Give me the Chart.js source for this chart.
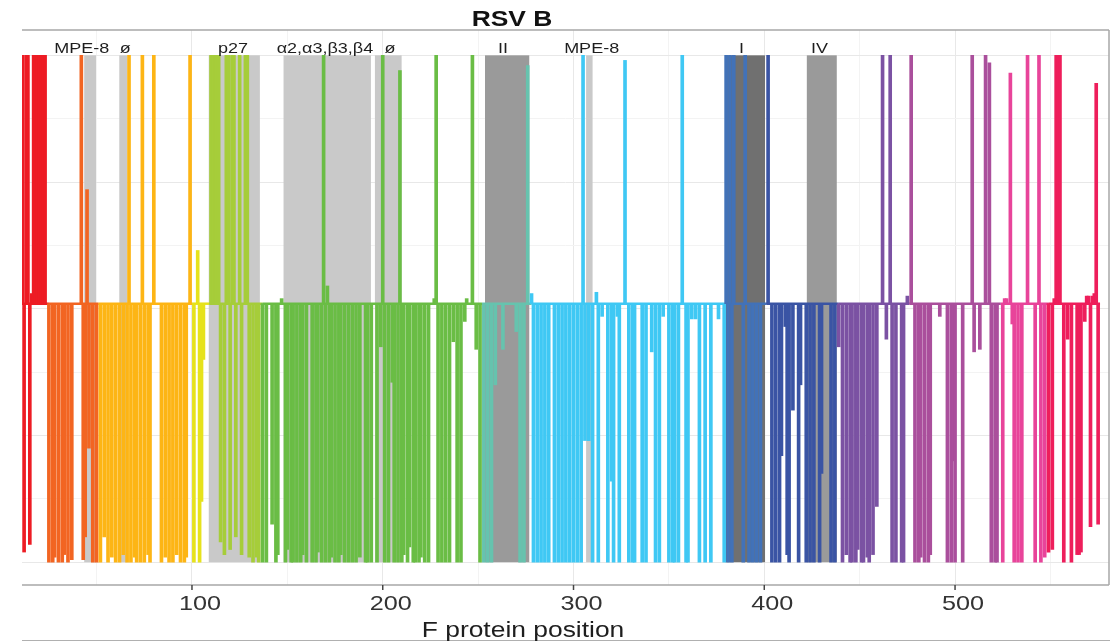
<!DOCTYPE html>
<html>
<head>
<meta charset="utf-8">
<title>RSV B</title>
<script src="https://cdn.jsdelivr.net/npm/chart.js"></script>
<style>
  html, body { margin: 0; padding: 0; background: #fff; }
  #chart { display: block; }
</style>
</head>
<body>
<canvas id="chart" width="1110" height="641"></canvas>
<script>
// last F protein position and the level of the flat baseline
var lastPos = 576
var baseline = 0.02

// domain colours, each one runs from its start position up to the next start
var domainStart = [1, 25, 51, 100, 109, 137, 252, 278, 380, 401, 439, 476, 524, 549]
var domainColor = ['#ed1c24', '#f26522', '#fdb515', '#e6e21c', '#a6cd3a', '#6abd45', '#66c3ae',
                   '#3fc8f4', '#4272b8', '#3a54a4', '#7b52a3', '#aa4f9c', '#e8449a', '#ee1e5b']

// [position, value] for every position that leaves the baseline
var redPts = [[11,1],[12,-0.96],[13,1],[14,1],[15,-0.93],[16,0.06],[17,1],[18,1],[19,1],[20,1],[21,1],[22,1],[23,1]]
var orangeRedPts = [[25,-1],[27,-1],[28,-0.98],[30,-1],[32,-1],[33,-0.97],[35,-1],[37,-0.99],
  [42,1],[43,-0.99],[44,-0.9],[45,0.47],[46,-0.55],[48,-1],[50,-1]]
var orangePts = [[52,-1],[54,-0.9],[56,-1],[58,-0.98],[60,-1],[62,-1],[64,-0.97],[66,-1],[67,1],[68,-1],[70,-0.98],
  [71,-1],[73,-1],[74,1],[75,-1],[77,-0.97],[78,-1],[80,1],[84,-1],[86,-0.98],[88,-1],[90,-1],[92,-0.97],[94,-1],
  [96,-1],[97,-0.98],[99,1]]
var yellowPts = [[101,-1],[103,0.23],[104,-1],[105,-0.76],[106,-0.2]]
var limePts = [[110,1],[111,1],[112,1],[113,1],[114,1],[115,-0.92],[117,-0.97],[118,1],[119,1],[120,-0.95],[121,1],
  [122,1],[123,-0.9],[125,1],[126,-0.97],[128,1],[129,1],[130,-0.98],[132,-1],[134,-0.98],[135,-1]]
var greenPts = [[137,-1],[139,-1],[142,-0.85],[144,-1],[145,-0.97],[147,0.04],[149,-1],[150,-0.95],[152,-1],[153,-1],
  [155,-1],[157,-1],[158,-0.97],[160,-1],[163,-1],[165,-1],[166,-0.96],[168,-1],[169,1],[170,-1],[171,0.09],[172,-1],
  [173,-0.98],[175,-1],[177,-1],[178,-0.97],[180,-1],[182,-1],[184,-1],[186,-1],[188,-0.98],[191,-1],[192,-1],
  [194,-1],[197,-1],[199,-0.15],[200,1],[201,-1],[203,-1],[205,-0.29],[206,-1],[208,-1],[209,0.94],[210,-1],
  [211,-0.97],[213,-1],[214,-0.94],[216,-1],[217,-1],[219,-1],[220,-0.98],[222,-1],[224,-1],[227,0.04],[228,1],
  [229,-1],[231,-1],[233,-1],[235,-1],[237,-0.13],[239,-1],[241,-1],[243,-0.05],[244,0.04],[247,1],[249,-0.16],[251,-1]]
var tealPts = [[253,-1],[255,-1],[257,-1],[259,-0.3],[263,-0.16],[270,-0.09],[272,-1],[274,-1],[276,0.96]]
var skyPts = [[278,0.06],[279,-1],[281,-1],[283,-1],[285,-1],[287,-1],[290,-1],[292,-1],[294,-1],[296,-1],[298,-1],
  [300,-1],[302,-1],[304,-1],[305,1],[306,-0.52],[308,-0.52],[310,-1],[312,0.065],[313,-1],[315,-0.03],[318,-1],
  [320,-0.68],[321,-1],[323,-0.03],[324,-1],[327,0.98],[329,-1],[331,-1],[332,-1],[336,-1],[338,-1],[341,-0.17],
  [343,-1],[345,-1],[347,-0.03],[350,-1],[352,-1],[353,-1],[355,-1],[357,1],[359,-1],[360,-1],[362,-0.04],
  [364,-0.04],[366,-1],[369,-1],[372,-1],[376,-0.04],[379,-1]]
var steelPts = [[380,1],[381,-1],[382,1],[383,-1],[384,1],[389,-1],[390,1],[392,-1],[394,-1],[396,-1],[398,-1]]
var bluePts = [[402,1],[404,-1],[406,-1],[408,-1],[409,-0.58],[411,-0.07],[412,-0.97],[413,-1],[415,-0.4],[418,-1],
  [419,-0.3],[422,-1],[424,-1],[426,-1],[429,-1],[430,-0.65],[435,-1],[437,-1]]
var purplePts = [[439,-0.15],[441,-1],[443,-0.97],[445,-1],[446,-1],[448,-1],[449,-0.95],[451,-1],[452,-1],[454,-0.98],
  [455,-1],[457,-0.97],[459,-0.78],[462,1],[464,-0.12],[466,1],[467,-1],[469,-1],[472,-1],[473,-1],[475,0.05]]
var magentaPts = [[477,1],[479,-1],[481,-1],[482,-0.98],[484,-1],[486,-1],[487,-0.97],[492,-0.03],[496,-1],[498,-1],
  [499,-0.6],[500,-1],[504,-1],[509,1],[510,-0.17],[513,-0.16],[516,1],[518,0.97],[519,-1],[521,-1],[522,-1]]
var pinkPts = [[525,-1],[526,0.04],[527,0.04],[529,0.93],[530,-0.06],[531,-1],[533,-1],[535,-1],[538,1],[542,-1],
  [544,1],[545,-1],[547,-0.98]]
var crimsonPts = [[549,-0.96],[551,-0.95],[552,0.04],[553,1],[554,1],[555,1],[557,-1],[559,-0.12],[561,-1],
  [564,-0.97],[565,-0.97],[566,-0.96],[568,-0.05],[569,0.05],[570,0.05],[571,-0.86],[572,0.05],[573,0.06],
  [574,0.89],[575,-0.85]]

// antigenic sites (shaded bands) and their labels
var siteName = ['MPE-8', 'ø', 'p27', 'α2,α3,β3,β4', 'ø', 'II', 'MPE-8', 'I', 'IV']
var siteFrom = [43.5, 61.9, 108.8, 148, 195.9, 253.6, 306.6, 379.6, 422.3]
var siteTo = [49.7, 66.1, 135.6, 193.8, 209.9, 276.8, 310, 400.4, 438]
var siteShade = ['#c9c9c9', '#c9c9c9', '#c9c9c9', '#c9c9c9', '#c9c9c9', '#9a9a9a', '#c9c9c9', '#707070', '#9a9a9a']
var siteLabelAt = [42.2, 65, 121.5, 169.7, 203.8, 263, 309.5, 388, 429]

var titleText = 'RSV B'
var xTitle = 'F protein position'
var textStretch = 1.2

var spikes = [].concat(redPts, orangeRedPts, orangePts, yellowPts, limePts, greenPts, tealPts, skyPts,
                       steelPts, bluePts, purplePts, magentaPts, pinkPts, crimsonPts)
  .map(function(p) { return {x: p[0], y: [baseline, p[1]]} })
var baseLine = domainStart.concat([lastPos]).map(function(p) { return {x: p, y: baseline} })

function domainColorAt(p) {
  var c = domainColor[0]
  for (var i = 0; i < domainStart.length; i++) {
    if (p >= domainStart[i]) c = domainColor[i]
  }
  return c
}

function wideText(ctx, text, x, y, font, color) {
  ctx.save()
  ctx.font = font
  ctx.fillStyle = color
  ctx.textAlign = 'center'
  ctx.textBaseline = 'alphabetic'
  ctx.translate(x, y)
  ctx.scale(textStretch, 1)
  ctx.fillText(text, 0, 0)
  ctx.restore()
}

function onStep(v, step) {
  return Math.abs(v / step - Math.round(v / step)) < 1e-6
}

var decorations = {
  id: 'decorations',
  beforeDatasetsDraw: function(chart) {
    var ctx = chart.ctx, xs = chart.scales.x, ys = chart.scales.y
    var top = ys.getPixelForValue(1), bottom = ys.getPixelForValue(-1)
    ctx.save()
    for (var i = 0; i < siteName.length; i++) {
      var x0 = xs.getPixelForValue(siteFrom[i]), x1 = xs.getPixelForValue(siteTo[i])
      ctx.fillStyle = siteShade[i]
      ctx.fillRect(x0, top, x1 - x0, bottom - top)
    }
    ctx.restore()
  },
  afterDraw: function(chart) {
    var ctx = chart.ctx, xs = chart.scales.x, ys = chart.scales.y, a = chart.chartArea
    ctx.save()
    ctx.strokeStyle = '#a8a8a8'
    ctx.lineWidth = 1.5
    ctx.beginPath()
    ctx.moveTo(a.left, a.top); ctx.lineTo(a.right, a.top)
    ctx.moveTo(a.right, a.top); ctx.lineTo(a.right, a.bottom)
    ctx.moveTo(a.left, a.bottom); ctx.lineTo(a.right, a.bottom)
    ctx.stroke()
    ctx.strokeStyle = '#b0b0b0'
    ctx.lineWidth = 1
    ctx.beginPath()
    ctx.moveTo(a.left, chart.height - 0.5); ctx.lineTo(chart.width, chart.height - 0.5)
    ctx.stroke()
    // tick marks and labels every 100
    ctx.strokeStyle = '#444'
    ctx.lineWidth = 1.5
    xs.ticks.forEach(function(t) {
      if (!onStep(t.value, 100)) return
      var x = xs.getPixelForValue(t.value)
      ctx.beginPath(); ctx.moveTo(x, a.bottom); ctx.lineTo(x, a.bottom + 5); ctx.stroke()
      wideText(ctx, String(t.value), x + 8, a.bottom + 25, '21px "Liberation Sans", Arial, sans-serif', '#333')
    })
    ctx.restore()
    var labelY = ys.getPixelForValue(1) - 2
    for (var i = 0; i < siteName.length; i++) {
      wideText(ctx, siteName[i], xs.getPixelForValue(siteLabelAt[i]), labelY, '15px "Liberation Sans", Arial, sans-serif', '#1e1e1e')
    }
    wideText(ctx, titleText, 512, 25.5, 'bold 22px "Liberation Sans", Arial, sans-serif', '#111')
    wideText(ctx, xTitle, 523, 637, '22px "Liberation Sans", Arial, sans-serif', '#1e1e1e')
  }
}

new Chart(document.getElementById('chart').getContext('2d'), {
  type: 'bar',
  data: {
    datasets: [{
      type: 'line',
      data: baseLine,
      borderColor: domainColor[0],
      borderWidth: 2.5,
      pointRadius: 0,
      tension: 0,
      fill: false,
      order: 2,
      segment: {
        borderColor: function(c) { return domainColorAt(c.p0.parsed.x) }
      }
    }, {
      type: 'bar',
      data: spikes,
      barThickness: 3,
      borderWidth: 0,
      order: 1,
      backgroundColor: function(c) { return c.raw ? domainColorAt(c.raw.x) : domainColor[0] }
    }]
  },
  options: {
    responsive: false,
    animation: false,
    devicePixelRatio: 1,
    layout: { padding: { left: 22, top: 30, right: 1, bottom: 56 } },
    plugins: {
      legend: { display: false },
      title: { display: false },
      tooltip: { enabled: false }
    },
    scales: {
      x: {
        type: 'linear',
        offset: false,
        min: 10.9,
        max: 580.7,
        ticks: { display: false, stepSize: 50 },
        grid: {
          drawTicks: false,
          offset: false,
          color: function(c) {
            var v = c.tick ? c.tick.value : 0
            if (onStep(v, 100)) return '#e8e8e8'
            if (onStep(v, 50)) return '#f3f3f3'
            return 'rgba(0,0,0,0)'
          }
        },
        border: { display: false }
      },
      y: {
        min: -1.09,
        max: 1.1,
        ticks: { display: false, stepSize: 0.25 },
        grid: {
          drawTicks: false,
          color: function(c) {
            var v = c.tick ? c.tick.value : 0
            if (onStep(v, 0.5)) return '#e8e8e8'
            if (onStep(v, 0.25)) return '#f3f3f3'
            return 'rgba(0,0,0,0)'
          }
        },
        border: { display: false }
      }
    }
  },
  plugins: [decorations]
})
</script>
</body>
</html>
